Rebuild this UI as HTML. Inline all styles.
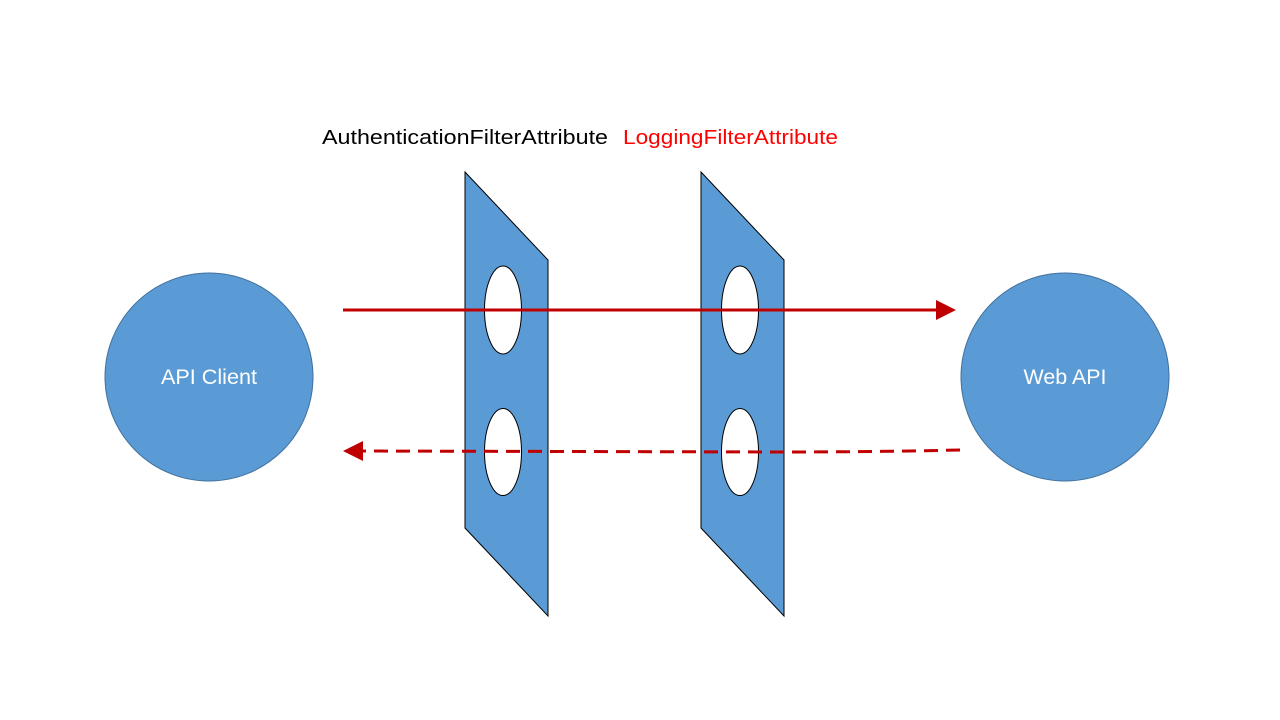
<!DOCTYPE html>
<html><head><meta charset="utf-8"><style>html,body{margin:0;padding:0;background:#fff}</style></head>
<body>
<svg width="1280" height="720" xmlns="http://www.w3.org/2000/svg" style="display:block">
<rect width="1280" height="720" fill="#fff"/>
<text x="322" y="144" font-family="Liberation Sans, sans-serif" font-size="20" fill="#000" textLength="286" lengthAdjust="spacingAndGlyphs">AuthenticationFilterAttribute</text>
<text x="623" y="144" font-family="Liberation Sans, sans-serif" font-size="20" fill="#FF0000" textLength="215" lengthAdjust="spacingAndGlyphs">LoggingFilterAttribute</text>
<circle cx="209" cy="377" r="104" fill="#5B9BD5" stroke="#41719C" stroke-width="1"/>
<circle cx="1065" cy="377" r="104" fill="#5B9BD5" stroke="#41719C" stroke-width="1"/>
<text x="209" y="384" text-anchor="middle" font-family="Liberation Sans, sans-serif" font-size="21" fill="#fff" textLength="96" lengthAdjust="spacingAndGlyphs">API Client</text>
<text x="1065" y="384" text-anchor="middle" font-family="Liberation Sans, sans-serif" font-size="21" fill="#fff" textLength="83" lengthAdjust="spacingAndGlyphs">Web API</text>
<polygon points="465,172 548,260 548,616 465,528" fill="#5B9BD5" stroke="#000" stroke-width="1"/>
<polygon points="701,172 784,260 784,616 701,528" fill="#5B9BD5" stroke="#000" stroke-width="1"/>
<ellipse cx="503" cy="310" rx="18.5" ry="44" fill="#fff" stroke="#000" stroke-width="1"/>
<ellipse cx="503" cy="452" rx="18.5" ry="43.5" fill="#fff" stroke="#000" stroke-width="1"/>
<ellipse cx="740" cy="310" rx="18.5" ry="44" fill="#fff" stroke="#000" stroke-width="1"/>
<ellipse cx="740" cy="452" rx="18.5" ry="43.5" fill="#fff" stroke="#000" stroke-width="1"/>
<line x1="343" y1="310" x2="940" y2="310" stroke="#C00000" stroke-width="3"/>
<polygon points="936,300 956,310 936,320" fill="#C00000"/>
<path d="M960,450 Q870,452 780,452 L360,451" fill="none" stroke="#C00000" stroke-width="3" stroke-dasharray="14,8"/>
<polygon points="363,441 343,451 363,461" fill="#C00000"/>
</svg>
</body></html>
